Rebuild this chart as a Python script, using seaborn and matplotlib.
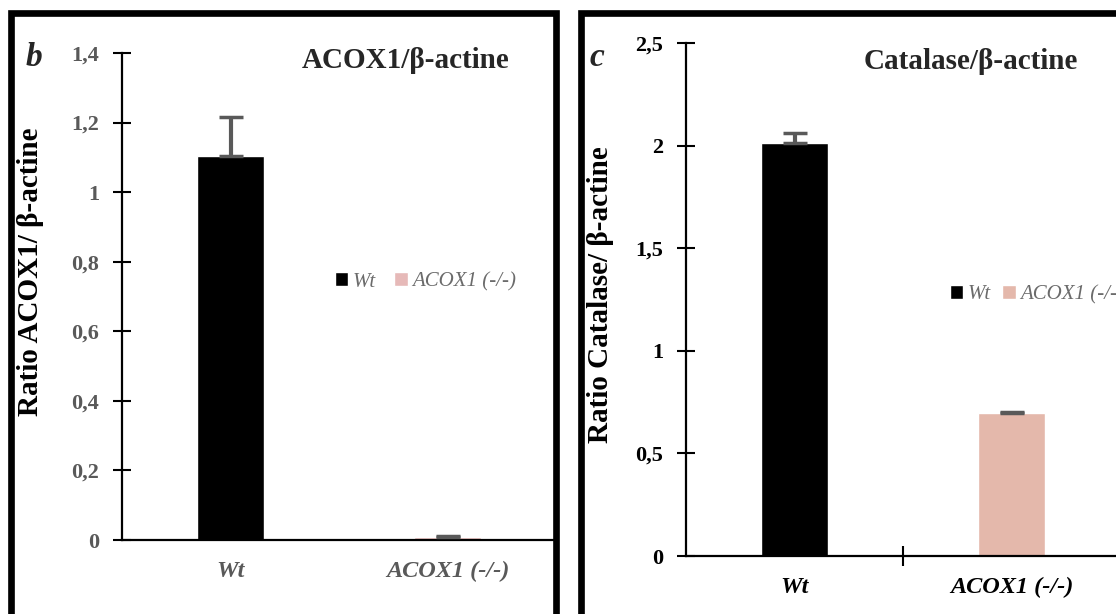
import matplotlib
matplotlib.use("Agg")
import matplotlib.pyplot as plt
from matplotlib.patches import Rectangle
import numpy as np
import pandas as pd
import seaborn as sns

# data
groups = ["Wt", "ACOX1 (-/-)"]
acox1_ratio = [1.105, 0.008]
acox1_err = [0.11, 0.004]
catalase_ratio = [2.015, 0.695]
catalase_err = [0.045, 0.005]

acox1_ticks = [0, 0.2, 0.4, 0.6, 0.8, 1.0, 1.2, 1.4]
acox1_ticklabels = ["0", "0,2", "0,4", "0,6", "0,8", "1", "1,2", "1,4"]
catalase_ticks = [0, 0.5, 1.0, 1.5, 2.0, 2.5]
catalase_ticklabels = ["0", "0,5", "1", "1,5", "2", "2,5"]

sns.set_theme(style="white")
plt.rcParams["font.family"] = ["Liberation Serif", "DejaVu Serif"]

GRAY = "#595959"
FIG_W, FIG_H = 1116, 614

fig = plt.figure(figsize=(FIG_W / 100, FIG_H / 100), dpi=100)


def px_axes(left, right, bottom, top):
    return fig.add_axes([left / FIG_W, 1 - bottom / FIG_H,
                         (right - left) / FIG_W, (bottom - top) / FIG_H])


def draw_panel(ax, vals, errs, colors, ticks, ticklabels, ymax, title,
               ylabel, txt_color, leg_xy, colspace, title_xy, ylab_xy,
               mid_tick):
    df = pd.DataFrame({"group": groups, "ratio": vals})
    sns.barplot(data=df, x="group", y="ratio", hue="group", palette=colors,
                width=0.31, errorbar=None, ax=ax, legend=True, saturation=1)
    ax.errorbar(range(len(groups)), vals, yerr=[[0] * len(errs), errs],
                fmt="none", ecolor=GRAY, elinewidth=3, capsize=8.5,
                capthick=2.5, zorder=3)
    ax.set_xlim(-0.5, 1.5)
    ax.set_ylim(0, ymax)
    ax.set_yticks(ticks)
    ax.set_yticklabels(ticklabels, fontsize=16, fontweight="bold",
                       color=txt_color)
    ax.set_xticks([0, 1])
    ax.set_xticklabels(groups, fontsize=17.5, fontweight="bold",
                       style="italic", color=txt_color)
    ax.tick_params(axis="x", length=0, pad=15)
    ax.tick_params(axis="y", direction="inout", length=13, width=1.5,
                   color="black", pad=10, left=True)
    if mid_tick:
        ax.set_xticks([0.5], minor=True)
        ax.tick_params(axis="x", which="minor", direction="inout",
                       length=14, width=1.5, color="black", bottom=True)
    for side in ["top", "right"]:
        ax.spines[side].set_visible(False)
    for side in ["left", "bottom"]:
        ax.spines[side].set_color("black")
        ax.spines[side].set_linewidth(1.6)
    ax.set_xlabel("")
    ax.set_ylabel(ylabel, fontsize=21, fontweight="bold", color="black")
    ax.yaxis.set_label_coords(*ylab_xy)
    ax.text(title_xy[0], title_xy[1], title, transform=ax.transAxes,
            fontsize=21, fontweight="bold", ha="center", va="center")
    leg = ax.legend(loc="center left", bbox_to_anchor=leg_xy, ncol=2,
                    frameon=False, handlelength=0.65, handleheight=0.65,
                    handletextpad=0.2, columnspacing=colspace,
                    borderaxespad=0, borderpad=0,
                    prop={"family": "Liberation Serif", "style": "italic",
                          "size": 15})
    for t in leg.get_texts():
        t.set_color("#6b6b6b")


ax1 = px_axes(122, 556, 540, 53)
draw_panel(ax1, acox1_ratio, acox1_err, ["#000000", "#E6B9B8"],
           acox1_ticks, acox1_ticklabels, 1.4, "ACOX1/β-actine",
           "Ratio ACOX1/ β-actine", GRAY, (0.49, 0.53), 0.9,
           (0.654, 0.985), (-0.18, 0.55), False)

ax2 = px_axes(686, 1120, 556, 43)
draw_panel(ax2, catalase_ratio, catalase_err, ["#000000", "#E4B8AB"],
           catalase_ticks, catalase_ticklabels, 2.5, "Catalase/β-actine",
           "Ratio Catalase/ β-actine", "black", (0.608, 0.51), 0.55,
           (0.657, 0.963), (-0.166, 0.51), True)

# panel frames
for x0, x1 in [(11, 556), (581, 1140)]:
    fig.add_artist(Rectangle((x0 / FIG_W, -0.05), (x1 - x0) / FIG_W,
                             1.05 - 13 / FIG_H, transform=fig.transFigure,
                             fill=False, edgecolor="black", linewidth=4.8,
                             zorder=10))

fig.text(34 / FIG_W, 1 - 58 / FIG_H, "b", fontsize=24, fontweight="bold",
         style="italic", ha="center", va="center")
fig.text(597 / FIG_W, 1 - 58 / FIG_H, "c", fontsize=24, fontweight="bold",
         style="italic", ha="center", va="center")

fig.savefig("out.png", dpi=100, facecolor="white")
